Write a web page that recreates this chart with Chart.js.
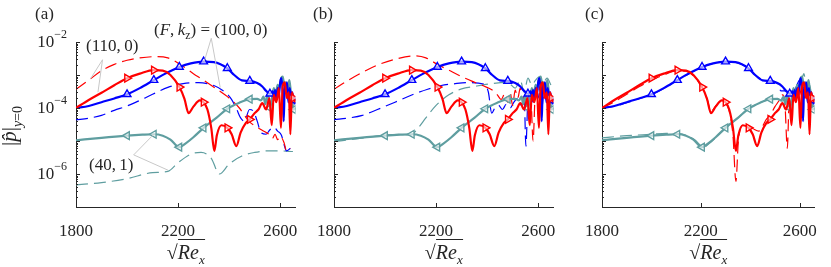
<!DOCTYPE html>
<html>
<head>
<meta charset="utf-8">
<script src="https://cdn.jsdelivr.net/npm/chart.js@4.4.1/dist/chart.umd.min.js"></script>
<style>
body { margin: 0; background: #fff; }
#fig { position: relative; width: 831px; height: 267px; overflow: hidden; font-family: "Liberation Serif", serif; color: #262626; }
canvas { position: absolute; top: 0; }
.t { position: absolute; white-space: nowrap; font-size: 17px; line-height: 1; }
.xt { position: absolute; top: 254px; white-space: nowrap; font-size: 20px; line-height: 1; transform: translate(-50%, -50%); }
.xt .ov { border-top: 1px solid #262626; padding-top: 1px; }
.xt sub { font-size: 13px; }
#ylab { position: absolute; left: 12px; top: 126px; white-space: nowrap; font-size: 21px; line-height: 1; transform: translate(-50%, -50%) rotate(-90deg); }
#ylab sub { font-size: 14px; }
</style>
</head>
<body>
<div id="fig">
  <canvas id="ca" width="312" height="267" style="left:0px"></canvas>
  <canvas id="cb" width="270" height="267" style="left:300px"></canvas>
  <canvas id="cc" width="261" height="267" style="left:570px"></canvas>

  <div class="t" style="left:35px;top:5px">(a)</div>
  <div class="t" style="left:313px;top:5px">(b)</div>
  <div class="t" style="left:585px;top:5px">(c)</div>

  <div class="t" style="left:86px;top:37px">(110,&#8201;0)</div>
  <div class="t" style="left:154px;top:21px">(<i>F</i>,&#8201;<i>k</i><sub style="font-size:12px">z</sub>) = (100,&#8201;0)</div>
  <div class="t" style="left:89px;top:156px">(40,&#8201;1)</div>

  <div id="ylab">|<i>p&#770;</i>|<sub><i>y</i>=0</sub></div>
  <div class="xt" id="xta"><span>&#8730;</span><span class="ov"><i>Re</i><sub><i>x</i></sub></span></div>
  <div class="xt" id="xtb"><span>&#8730;</span><span class="ov"><i>Re</i><sub><i>x</i></sub></span></div>
  <div class="xt" id="xtc"><span>&#8730;</span><span class="ov"><i>Re</i><sub><i>x</i></sub></span></div>
</div>

<script>
// axis ticks
const xTicks = [1800, 2200, 2600];
const yLabelTicks = [1e-2, 1e-4, 1e-6];
const markerX = [2000, 2105, 2205, 2300, 2393, 2481, 2560, 2652];

// solid curves (same in all three panels)
const blueX = [1800,1850,1900,1950,2000,2050,2105,2150,2205,2250,2300,2340,2393,2420,2450,2481,2510,2530,2545,2560,2570,2575,2580,2585,2590,2595,2600,2605,2610,2614,2618,2622,2627,2632,2637,2642,2647,2652,2660];
const blueY = [1.0e-4,1.15e-4,1.5e-4,1.95e-4,2.6e-4,4.0e-4,7.0e-4,1.1e-3,1.75e-3,2.25e-3,2.55e-3,2.45e-3,1.6e-3,1.0e-3,6.9e-4,6.6e-4,5.7e-4,4.5e-4,3.3e-4,2.7e-4,3.2e-4,2.2e-4,3.5e-4,1.8e-4,4e-4,2.5e-4,6e-4,8e-4,3e-4,4e-5,5e-4,3.5e-4,6e-4,1.5e-4,4e-4,2.5e-4,3e-4,1.7e-4,1.3e-4];

const redX = [1800,1850,1900,1950,2000,2050,2105,2140,2170,2205,2225,2241,2260,2285,2300,2315,2330,2342,2352,2370,2393,2410,2428,2445,2465,2481,2500,2515,2530,2545,2558,2567,2575,2585,2595,2603,2610,2618,2626,2634,2640,2646,2652,2660];
const redY = [1.0e-4,1.75e-4,2.9e-4,4.9e-4,8.0e-4,1.1e-3,1.4e-3,1.35e-3,1.0e-3,4.3e-4,1.9e-4,7e-5,1.1e-4,1.7e-4,1.5e-4,9e-5,2.5e-5,5e-6,1.5e-5,3e-5,2.5e-5,1.6e-5,7e-6,1.8e-5,3.5e-5,4.5e-5,7e-5,9e-5,1.4e-4,9e-5,2e-4,3e-5,2.5e-4,1.5e-4,4e-4,2.5e-5,4.5e-4,6e-4,2e-4,3e-4,1.6e-5,3e-4,2e-4,1.5e-4];

const tealX = [1800,1900,2000,2060,2105,2140,2170,2205,2230,2260,2300,2350,2393,2440,2481,2510,2525,2535,2542,2550,2556,2560,2568,2575,2582,2590,2597,2604,2610,2616,2622,2630,2636,2642,2648,2652,2660];
const tealY = [1.05e-5,1.25e-5,1.45e-5,1.55e-5,1.6e-5,1.45e-5,1.1e-5,6.5e-6,8.5e-6,1.3e-5,2.5e-5,5e-5,9.5e-5,1.45e-4,1.85e-4,1.9e-4,1.7e-4,2.2e-4,1.3e-4,2.6e-4,1.5e-4,1e-4,2e-4,4e-4,2.5e-4,5e-4,4e-4,8e-4,9e-4,5e-4,6e-4,4e-4,7e-4,3e-4,1.5e-4,9e-5,1e-4];

// dashed curves, panel (a)
const redDashAX = [1800,1850,1900,1950,2000,2050,2110,2160,2220,2260,2300,2350,2400,2440,2460,2480,2510,2540,2560,2570,2580,2590,2600,2615,2625,2640];
const redDashAY = [3.7e-4,7e-4,1.35e-3,2.1e-3,2.8e-3,3.3e-3,3.6e-3,3.3e-3,1.8e-3,1.1e-3,7e-4,3.8e-4,2e-4,1e-4,6e-5,3.8e-5,2.6e-5,1.9e-5,1.5e-5,1.2e-5,1.6e-5,1.1e-5,1.4e-5,9e-6,5e-6,6e-6];
const blueDashAX = [1800,1850,1900,1950,2000,2050,2100,2160,2220,2280,2340,2380,2410,2430,2445,2460,2480,2495,2510,2525,2545,2560,2575,2590,2605,2615,2625,2640];
const blueDashAY = [4.4e-5,4.9e-5,6e-5,8.5e-5,1.15e-4,1.7e-4,2.6e-4,4.2e-4,5.5e-4,5.9e-4,4.8e-4,3.2e-4,1.8e-4,9e-5,5e-5,4e-5,9e-5,8e-5,4e-5,1.8e-5,1.6e-5,2.2e-5,2.6e-5,2e-5,1.5e-5,8e-6,5e-6,6e-6];
const tealDashAX = [1800,1900,2000,2100,2160,2200,2250,2290,2330,2362,2400,2450,2500,2550,2600,2650];
const tealDashAY = [4.7e-7,5.5e-7,7.2e-7,1.1e-6,1.2e-6,2.2e-6,4e-6,4.5e-6,3e-6,1.0e-6,2e-6,3.5e-6,4.5e-6,5e-6,5e-6,4.8e-6];

// dashed curves, panel (b)
const redDashBX = [1800,1850,1911,1970,2039,2116,2160,2205,2250,2295,2340,2385,2420,2440,2455,2470,2480,2490,2500,2510,2520,2530,2540,2550,2560,2570,2580,2590,2600,2610,2620,2630,2640,2650];
const redDashBY = [3.7e-4,6.5e-4,1.2e-3,2e-3,3e-3,3.8e-3,3.3e-3,2.1e-3,1.4e-3,9.3e-4,6.5e-4,4.7e-4,3.5e-4,2.5e-4,1.8e-4,2.8e-4,1.5e-4,3e-4,1.2e-4,3.5e-4,2e-4,4e-4,1.5e-4,3e-4,1e-4,3.5e-4,1e-5,4e-4,3e-4,5e-4,2e-4,4e-4,1.5e-4,3e-4];
const blueDashBX = [1800,1860,1911,1970,2039,2100,2167,2220,2269,2321,2388,2405,2418,2430,2445,2460,2475,2490,2505,2520,2535,2545,2552,2560,2570,2580,2590,2600,2608,2615,2622,2630,2640,2650];
const blueDashBY = [4.4e-5,5e-5,6e-5,9e-5,1.5e-4,2.4e-4,3.7e-4,4.8e-4,5.4e-4,5.9e-4,5.3e-4,3e-4,7e-5,1e-4,1.2e-4,9e-5,1.3e-4,1e-4,1.5e-4,2e-4,1.2e-4,2.5e-4,7e-6,2e-4,3e-4,1.5e-4,3.5e-4,2e-4,4e-4,1e-4,3e-4,2e-4,3.5e-4,2e-4];
const tealDashBX = [1800,1900,2000,2060,2100,2130,2160,2200,2250,2300,2350,2420,2480,2510,2530,2545,2560,2575,2590,2605,2620,2635,2650];
const tealDashBY = [9.5e-6,1.2e-5,1.5e-5,1.6e-5,1.5e-5,2.5e-5,5e-5,1.2e-4,2.5e-4,3.8e-4,4.5e-4,5.5e-4,6e-4,4e-4,7e-4,3e-4,8e-4,5e-4,7e-4,9e-4,6e-4,8e-4,5e-4];

// dashed curves, panel (c)
const redDashCX = [1800,1850,1900,1950,2000,2050,2105,2140,2170,2205,2225,2241,2260,2285,2300,2315,2330,2342,2352,2370,2393,2410,2435,2450,2465,2481,2500,2515,2530,2540,2550,2558,2570,2580,2590,2600,2610,2620,2630,2640,2650];
const redDashCY = [1.0e-4,1.55e-4,2.6e-4,4.4e-4,7e-4,1.0e-3,1.35e-3,1.3e-3,9.5e-4,4.2e-4,1.9e-4,8e-5,1.15e-4,1.7e-4,1.5e-4,8e-5,1.5e-5,6e-7,1e-5,3e-5,2.8e-5,2.4e-5,2e-5,2.8e-5,4.5e-5,6e-5,1.1e-4,1.6e-4,2.5e-4,1.5e-4,6e-6,2e-4,3e-4,1.5e-4,4e-4,2.5e-4,5e-4,2e-4,3e-4,1.5e-4,2e-4];
const blueDashCX = [1800,1850,1900,1950,2000,2050,2105,2150,2205,2250,2300,2340,2393,2420,2450,2481,2510,2525,2545,2560,2580,2600,2620,2640,2655];
const blueDashCY = [1.0e-4,1.12e-4,1.45e-4,1.9e-4,2.55e-4,3.9e-4,7e-4,1.05e-3,1.75e-3,2.25e-3,2.55e-3,2.45e-3,1.6e-3,1.0e-3,7.2e-4,6.6e-4,5.4e-4,3.3e-4,3.3e-4,2.8e-4,3.5e-4,7e-4,4e-4,3e-4,1.6e-4];
const tealDashCX = [1800,1900,2000,2060,2105,2140,2175,2212,2235,2262,2300,2350,2393,2440,2481,2510,2530,2550,2565,2580,2595,2610,2617,2625,2640,2655];
const tealDashCY = [1.25e-5,1.45e-5,1.6e-5,1.7e-5,1.7e-5,1.5e-5,1.1e-5,6.5e-6,8.5e-6,1.3e-5,2.5e-5,5e-5,9.5e-5,1.45e-4,1.85e-4,1.9e-4,1.6e-4,2.5e-4,2e-4,3.5e-4,5e-4,8e-4,1.1e-3,6e-4,5e-4,1.1e-4];

// leader lines of the labels in (a): end, corner, end (data units)
const lead110 = [[1856, 7.5e-4], [1904, 2.9e-3], [1886, 3.0e-4]];
const lead100 = [[2302, 2.5e-3], [2330, 1.3e-2], [2365, 4.2e-4]];
const lead40 = [[2105, 1.6e-5], [2026, 3.8e-6], [2161, 1.3e-6]];

const BLUE = '#0000ff', RED = '#ff0000', TEAL = '#5f9ea0', AXIS = '#262626';
const FONT = '"Liberation Serif", serif';

let logTicks = [];
for (let e = -7; e <= -3; e++) {
    for (let k = 1; k <= 9; k++) logTicks.push(k * Math.pow(10, e));
}
logTicks.push(1e-2);

function pts(xs, ys) {
    return xs.map((x, i) => ({ x: x, y: ys[i] }));
}

function solid(xs, ys, color, rot) {
    return {
        data: pts(xs, ys),
        borderColor: color,
        borderWidth: 2.2,
        cubicInterpolationMode: 'monotone',
        pointStyle: 'triangle',
        pointRotation: rot,
        pointRadius: ctx => (ctx.raw && markerX.includes(ctx.raw.x)) ? 4.5 : 0,
        pointBorderColor: color,
        pointBackgroundColor: 'rgba(255,255,255,0.6)',
        pointBorderWidth: 1.4,
        pointHoverRadius: 0
    };
}

function dashed(xs, ys, color) {
    return {
        data: pts(xs, ys),
        borderColor: color,
        borderWidth: 1.2,
        borderDash: [12, 6],
        cubicInterpolationMode: 'monotone',
        pointRadius: 0,
        pointHoverRadius: 0
    };
}

function isDecade(v) {
    const l = Math.log10(v);
    return Math.abs(l - Math.round(l)) < 1e-9;
}

const deco = {
    id: 'deco',
    afterDatasetsDraw(chart, args, opts) {
        if (!opts.leaders) return;
        const ctx = chart.ctx, xs = chart.scales.x, ys = chart.scales.y;
        ctx.save();
        ctx.strokeStyle = '#c8c8c8';
        ctx.lineWidth = 1;
        [lead110, lead100, lead40].forEach(l => {
            ctx.beginPath();
            l.forEach((p, i) => {
                const px = xs.getPixelForValue(p[0]), py = ys.getPixelForValue(p[1]);
                if (i === 0) ctx.moveTo(px, py); else ctx.lineTo(px, py);
            });
            ctx.stroke();
        });
        ctx.restore();
    },
    afterDraw(chart, args, opts) {
        const ctx = chart.ctx, xs = chart.scales.x, ys = chart.scales.y, a = chart.chartArea;
        ctx.save();
        ctx.strokeStyle = AXIS;
        ctx.lineWidth = 1;
        ctx.beginPath();
        logTicks.forEach(v => {
            const py = Math.round(ys.getPixelForValue(v)) + 0.5;
            const len = isDecade(v) ? 4 : 2;
            ctx.moveTo(a.left, py);
            ctx.lineTo(a.left + len, py);
        });
        xTicks.forEach(v => {
            const px = Math.round(xs.getPixelForValue(v)) + 0.5;
            ctx.moveTo(px, a.bottom);
            ctx.lineTo(px, a.bottom - 4);
        });
        ctx.stroke();
        if (opts.labels) {
            ctx.fillStyle = AXIS;
            ctx.textBaseline = 'middle';
            yLabelTicks.forEach(v => {
                const py = ys.getPixelForValue(v);
                const ex = '\u2212' + Math.round(-Math.log10(v));
                ctx.font = '12px ' + FONT;
                const ew = ctx.measureText(ex).width;
                ctx.textAlign = 'right';
                ctx.fillText(ex, a.left - 9, py - 7);
                ctx.font = '17px ' + FONT;
                ctx.fillText('10', a.left - 9 - ew, py + 1);
            });
        }
        ctx.restore();
    }
};

function makePanel(id, yW, padR, dashSets, isA) {
    const datasets = [
        solid(redX, redY, RED, 90),
        solid(blueX, blueY, BLUE, 0),
        solid(tealX, tealY, TEAL, -90),
        dashed(dashSets[0][0], dashSets[0][1], RED),
        dashed(dashSets[1][0], dashSets[1][1], BLUE),
        dashed(dashSets[2][0], dashSets[2][1], TEAL)
    ];
    return new Chart(document.getElementById(id), {
        type: 'line',
        data: { datasets: datasets },
        options: {
            responsive: false,
            animation: false,
            events: [],
            layout: { padding: { top: 42, right: padR, left: 0, bottom: 0 } },
            plugins: {
                legend: { display: false },
                tooltip: { enabled: false },
                deco: { labels: isA, leaders: isA }
            },
            scales: {
                x: {
                    type: 'linear',
                    min: 1800,
                    max: 2660,
                    afterBuildTicks: s => { s.ticks = xTicks.map(v => ({ value: v })); },
                    afterFit: s => { s.height = 60; },
                    grid: { display: false, drawTicks: false },
                    border: { display: true, color: AXIS, width: 1 },
                    ticks: {
                        autoSkip: false, maxRotation: 0, padding: 14, color: AXIS,
                        font: { family: FONT, size: 17 },
                        callback: v => String(v)
                    }
                },
                y: {
                    type: 'logarithmic',
                    min: 1e-7,
                    max: 1e-2,
                    afterBuildTicks: s => { s.ticks = logTicks.map(v => ({ value: v })); },
                    afterFit: s => { s.width = yW; },
                    grid: { display: false, drawTicks: false },
                    border: { display: true, color: AXIS, width: 1 },
                    ticks: { display: false }
                }
            }
        },
        plugins: [deco]
    });
}

const chA = makePanel('ca', 76, 12, [[redDashAX, redDashAY], [blueDashAX, blueDashAY], [tealDashAX, tealDashAY]], true);
const chB = makePanel('cb', 34, 12, [[redDashBX, redDashBY], [blueDashBX, blueDashBY], [tealDashBX, tealDashBY]], false);
const chC = makePanel('cc', 32, 5, [[redDashCX, redDashCY], [blueDashCX, blueDashCY], [tealDashCX, tealDashCY]], false);

// centre the x titles under each plot area
[[chA, 'xta', 0], [chB, 'xtb', 300], [chC, 'xtc', 570]].forEach(([ch, id, off]) => {
    const a = ch.chartArea;
    document.getElementById(id).style.left = (off + (a.left + a.right) / 2) + 'px';
});
</script>
</body>
</html>
